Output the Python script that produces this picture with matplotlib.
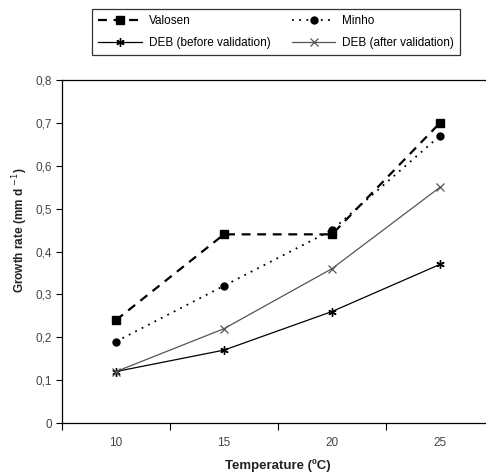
import matplotlib
matplotlib.use("Agg")
import matplotlib.pyplot as plt
import matplotlib.ticker as ticker
import numpy as np

plt.rcParams.update({
    "font.family": ["Liberation Sans", "DejaVu Sans"],
    "font.size": 8,
})

# ---------------------------------------------------------------------------
# Data
# ---------------------------------------------------------------------------
temperatures = ["10", "15", "20", "25"]
valosen = [0.24, 0.44, 0.44, 0.70]
minho = [0.19, 0.32, 0.45, 0.67]
deb_before = [0.12, 0.17, 0.26, 0.37]
deb_after = [0.12, 0.22, 0.36, 0.55]
y_ticks = [0, 0.1, 0.2, 0.3, 0.4, 0.5, 0.6, 0.7, 0.8]
y_tick_labels = ["0", "0,1", "0,2", "0,3", "0,4", "0,5", "0,6", "0,7", "0,8"]

W, H = 486, 472
fig = plt.figure(figsize=(W / 100, H / 100), dpi=100)
ax = fig.add_axes([62 / W, (H - 423) / H, 432 / W, 343 / H])

x = np.arange(len(temperatures))

l_val, = ax.plot(x, valosen, color="black", linestyle=(0, (4, 3)),
                 linewidth=1.6, marker="s", markersize=5.5, label="Valosen")
l_min, = ax.plot(x, minho, color="black", linestyle=(0, (1, 3)),
                 linewidth=1.3, marker="o", markersize=5, label="Minho")
l_bef, = ax.plot(x, deb_before, color="black", linestyle="-", linewidth=0.9,
                 marker=(6, 2, 0), markersize=6, markeredgewidth=1.0,
                 label="DEB (before validation)")
l_aft, = ax.plot(x, deb_after, color="#555555", linestyle="-", linewidth=0.9,
                 marker="x", markersize=5.5, markeredgewidth=0.9,
                 label="DEB (after validation)")

ax.set_xlim(-0.5, 3.5)
ax.set_ylim(0, 0.8)
ax.set_xticks(x)
ax.set_xticklabels(temperatures)
ax.xaxis.set_minor_locator(ticker.FixedLocator(np.arange(-0.5, 4.0, 1.0)))
ax.tick_params(axis="x", which="major", length=0, pad=10,
               labelcolor="#444444", labelsize=8.5)
ax.tick_params(axis="x", which="minor", length=5, direction="out", width=0.8,
               color="black")
ax.set_yticks(y_ticks)
ax.set_yticklabels(y_tick_labels)
ax.tick_params(axis="y", length=4, direction="out", width=0.8,
               color="black", labelcolor="#444444", labelsize=8.5, pad=3)

for s in ["left", "bottom", "top"]:
    ax.spines[s].set_linewidth(0.9)
ax.spines["right"].set_visible(False)

ax.set_xlabel("Temperature (ºC)", fontweight="bold", fontsize=9.5,
              labelpad=7, color="#222222")
ax.set_ylabel("Growth rate (mm d $^{-1}$)", fontweight="bold", fontsize=8.5,
              color="#222222")
ax.yaxis.set_label_coords(-0.075, 0.563)

# row-wise order: Valosen | Minho, DEB before | DEB after
handles = [l_val, l_bef, l_min, l_aft]
labels = [h.get_label() for h in handles]
leg = fig.legend(handles, labels, loc="upper left",
                 bbox_to_anchor=(92 / W, 1 - 9 / H),
                 ncol=2, frameon=True, fancybox=False, edgecolor="black",
                 fontsize=8.5, handlelength=3.7, columnspacing=1.8,
                 handletextpad=0.55, borderpad=0.55, labelspacing=0.8,
                 borderaxespad=0)
leg.get_frame().set_linewidth(0.9)

fig.savefig("out.png", dpi=100)
